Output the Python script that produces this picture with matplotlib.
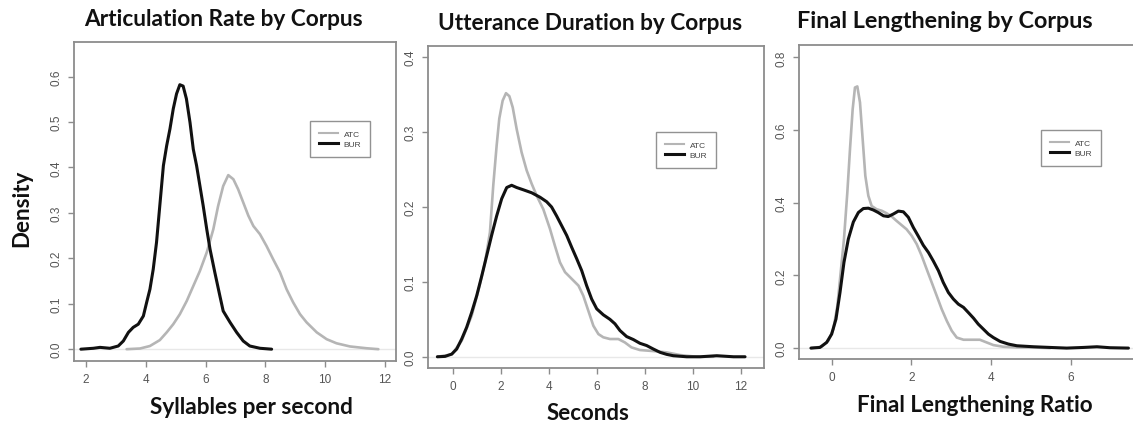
import matplotlib
matplotlib.use('Agg')
import matplotlib.pyplot as plt
from matplotlib.lines import Line2D

W, H, DPI = 1133, 427, 100

# ---------------- data ----------------
ar_bur_x = [1.83, 2.25, 2.47, 2.80, 3.08, 3.25, 3.42, 3.58, 3.75, 3.92, 4.03, 4.14, 4.25, 4.36,
            4.47, 4.59, 4.70, 4.81, 4.92, 5.03, 5.14, 5.25, 5.36, 5.48, 5.59, 5.70, 5.81, 5.92,
            6.04, 6.15, 6.31, 6.48, 6.59, 6.82, 7.04, 7.26, 7.48, 7.82, 8.21]
ar_bur_y = [0.0, 0.002, 0.004, 0.002, 0.007, 0.018, 0.037, 0.048, 0.055, 0.073, 0.103, 0.132,
            0.176, 0.235, 0.316, 0.404, 0.448, 0.485, 0.529, 0.562, 0.582, 0.579, 0.551, 0.499,
            0.44, 0.404, 0.36, 0.316, 0.264, 0.22, 0.169, 0.117, 0.084, 0.059, 0.037, 0.018,
            0.007, 0.002, 0.0]
ar_atc_x = [3.36, 3.81, 4.14, 4.47, 4.70, 4.92, 5.14, 5.37, 5.59, 5.81, 6.04, 6.26, 6.42, 6.59,
            6.76, 6.93, 7.09, 7.26, 7.43, 7.60, 7.82, 8.04, 8.26, 8.49, 8.71, 8.93, 9.16, 9.38,
            9.72, 10.05, 10.38, 10.83, 11.39, 11.78]
ar_atc_y = [0.0, 0.0015, 0.007, 0.020, 0.037, 0.055, 0.077, 0.106, 0.139, 0.172, 0.213, 0.264,
            0.315, 0.359, 0.383, 0.374, 0.352, 0.323, 0.294, 0.271, 0.253, 0.227, 0.198, 0.169,
            0.132, 0.103, 0.077, 0.059, 0.037, 0.022, 0.013, 0.006, 0.002, 0.0]

ud_bur_x = [-0.64, -0.32, -0.04, 0.165, 0.374, 0.58, 0.79, 1.0, 1.21, 1.415, 1.62, 1.83, 2.04,
            2.25, 2.455, 2.665, 2.94, 3.29, 3.64, 3.915, 4.12, 4.33, 4.54, 4.75, 4.96, 5.165,
            5.375, 5.58, 5.79, 6.0, 6.275, 6.55, 6.76, 6.97, 7.245, 7.525, 7.80, 8.08, 8.36,
            8.64, 8.915, 9.19, 9.75, 10.31, 11.0, 11.7, 12.18]
ud_bur_y = [0.0, 0.0005, 0.0036, 0.0103, 0.0237, 0.0393, 0.0593, 0.0816, 0.108, 0.135, 0.162,
            0.188, 0.211, 0.226, 0.229, 0.226, 0.223, 0.219, 0.213, 0.207, 0.2, 0.188, 0.175,
            0.162, 0.146, 0.131, 0.115, 0.095, 0.077, 0.064, 0.056, 0.050, 0.044, 0.035, 0.027,
            0.023, 0.018, 0.015, 0.0103, 0.0059, 0.0032, 0.0014, 0.0, 0.0, 0.0014, 0.0, 0.0]
ud_atc_x = [-0.64, -0.04, 0.374, 0.79, 1.12, 1.345, 1.55, 1.69, 1.83, 1.94, 2.08, 2.22, 2.36,
            2.50, 2.665, 2.87, 3.08, 3.29, 3.50, 3.775, 4.05, 4.26, 4.47, 4.68, 4.96, 5.24,
            5.44, 5.65, 5.86, 6.07, 6.275, 6.55, 6.90, 7.17, 7.45, 7.80, 8.36, 8.915, 9.47,
            10.17, 10.86]
ud_atc_y = [0.0, 0.0031, 0.0214, 0.0548, 0.095, 0.126, 0.166, 0.229, 0.282, 0.318, 0.342, 0.352,
            0.348, 0.333, 0.304, 0.273, 0.249, 0.231, 0.215, 0.197, 0.171, 0.148, 0.126, 0.113,
            0.104, 0.095, 0.0816, 0.0615, 0.0414, 0.0303, 0.026, 0.0237, 0.0237, 0.0192, 0.0125,
            0.009, 0.0076, 0.0059, 0.0023, 0.0, 0.0]

fl_bur_x = [-0.52, -0.294, -0.126, 0.0, 0.108, 0.209, 0.309, 0.418, 0.544, 0.67, 0.795, 0.921,
            1.047, 1.17, 1.30, 1.42, 1.55, 1.675, 1.80, 1.925, 2.05, 2.18, 2.30, 2.43, 2.55,
            2.68, 2.80, 2.93, 3.055, 3.18, 3.31, 3.43, 3.56, 3.68, 3.81, 3.935, 4.06, 4.23,
            4.44, 4.65, 5.065, 5.485, 5.90, 6.32, 6.66, 6.99, 7.45]
fl_bur_y = [0.0, 0.0018, 0.0156, 0.0385, 0.0798, 0.153, 0.236, 0.30, 0.347, 0.373, 0.384, 0.385,
            0.38, 0.373, 0.364, 0.362, 0.369, 0.377, 0.375, 0.36, 0.332, 0.307, 0.283, 0.263,
            0.24, 0.213, 0.181, 0.153, 0.135, 0.121, 0.112, 0.098, 0.0825, 0.066, 0.052, 0.0385,
            0.029, 0.0183, 0.011, 0.0064, 0.0037, 0.0018, 0.0, 0.0018, 0.0037, 0.001, 0.0]
fl_atc_x = [-0.52, -0.252, -0.084, 0.042, 0.143, 0.226, 0.309, 0.393, 0.46, 0.527, 0.585, 0.644,
            0.711, 0.778, 0.845, 0.921, 1.004, 1.13, 1.256, 1.38, 1.507, 1.63, 1.76, 1.88, 2.01,
            2.135, 2.26, 2.386, 2.51, 2.637, 2.763, 2.89, 3.014, 3.14, 3.31, 3.475, 3.72, 3.89,
            4.06, 4.31, 4.65, 5.065, 5.485]
fl_atc_y = [0.0, 0.0037, 0.020, 0.052, 0.116, 0.208, 0.30, 0.428, 0.547, 0.657, 0.717, 0.72,
            0.676, 0.575, 0.474, 0.419, 0.391, 0.382, 0.378, 0.371, 0.362, 0.35, 0.338, 0.327,
            0.309, 0.286, 0.254, 0.217, 0.181, 0.144, 0.107, 0.075, 0.0477, 0.029, 0.023, 0.023,
            0.023, 0.0156, 0.0083, 0.0037, 0.0018, 0.0018, 0.0]

titles = ["Articulation Rate by Corpus", "Utterance Duration by Corpus", "Final Lengthening by Corpus"]
xlabels = ["Syllables per second", "Seconds", "Final Lengthening Ratio"]
ylabel = "Density"
series_labels = ["ATC", "BUR"]
xticks = [[2, 4, 6, 8, 10, 12], [0, 2, 4, 6, 8, 10, 12], [0, 2, 4, 6]]
yticks = [[0.0, 0.1, 0.2, 0.3, 0.4, 0.5, 0.6], [0.0, 0.1, 0.2, 0.3, 0.4], [0.0, 0.2, 0.4, 0.6, 0.8]]

# ---------------- layout (pixels) ----------------
boxes = [(74, 43, 396, 362), (428, 47, 764, 369), (799, 46, 1136, 360)]   # l, t, r, b
xlims = [(1.6, 12.37), (-1.03, 12.97), (-0.82, 7.64)]
ylims = [(-0.026, 0.676), (-0.015, 0.415), (-0.030, 0.834)]
legend_boxes = [(310, 122), (656, 133), (1041, 131)]
title_pos = [(223.5, 19, 279), (590, 23, 304), (944.5, 21, 295)]
xlabel_pos = [(251.5, 408, 203), (588, 414, 83), (975, 406, 236)]

GRAY = '#b5b5b5'
BLACK = '#111111'
SPINE = '#8c8c8c'
TICKC = '#555555'

plt.rcParams['font.family'] = ['Liberation Sans', 'DejaVu Sans']
fig = plt.figure(figsize=(W / DPI, H / DPI), dpi=DPI)

data = [(ar_atc_x, ar_atc_y, ar_bur_x, ar_bur_y),
        (ud_atc_x, ud_atc_y, ud_bur_x, ud_bur_y),
        (fl_atc_x, fl_atc_y, fl_bur_x, fl_bur_y)]

for i in range(3):
    l, t, r, b = boxes[i]
    ax = fig.add_axes([l / W, 1 - b / H, (r - l) / W, (b - t) / H])
    ax.axhline(0, color='#e8e8e8', lw=1.0, zorder=1)
    ax_x, ax_y, bx, by = data[i]
    ax.plot(ax_x, ax_y, color=GRAY, lw=1.9, solid_joinstyle='round', solid_capstyle='round', zorder=2)
    ax.plot(bx, by, color=BLACK, lw=2.2, solid_joinstyle='round', solid_capstyle='round', zorder=3)
    ax.set_xlim(*xlims[i])
    ax.set_ylim(*ylims[i])
    ax.set_xticks(xticks[i])
    ax.set_xticklabels([str(v) for v in xticks[i]])
    ax.set_yticks(yticks[i])
    ax.set_yticklabels([f"{v:.1f}" for v in yticks[i]], rotation=90, va='center')
    ax.tick_params(axis='both', direction='out', length=4.5, width=1.0, color=SPINE,
                   labelcolor=TICKC, labelsize=8.5, pad=4)
    for s in ax.spines.values():
        s.set_color(SPINE)
        s.set_linewidth(1.3)
    handles = [Line2D([], [], color=GRAY, lw=1.5), Line2D([], [], color=BLACK, lw=2.2)]
    lx, ly = legend_boxes[i]
    leg = ax.legend(handles, series_labels, loc='upper left',
                    bbox_to_anchor=(lx / W, 1 - ly / H), bbox_transform=fig.transFigure,
                    fontsize=6, frameon=True, fancybox=False, edgecolor='#777777',
                    handlelength=2.3, handletextpad=0.7, borderpad=1.05, labelspacing=0.3,
                    borderaxespad=0)
    leg.get_frame().set_linewidth(1.0)
    for txt in leg.get_texts():
        txt.set_color('#444444')

text_objs = []
for i in range(3):
    x, y, w = title_pos[i]
    t = fig.text(x / W, 1 - y / H, titles[i], ha='center', va='center', fontsize=15,
                 fontweight='bold', family=['Lato', 'DejaVu Sans'], color='#111111')
    text_objs.append((t, w, False))
    x, y, w = xlabel_pos[i]
    t = fig.text(x / W, 1 - y / H, xlabels[i], ha='center', va='center', fontsize=16,
                 fontweight='bold', family=['Lato', 'DejaVu Sans'], color='#111111')
    text_objs.append((t, w, False))
t = fig.text(22 / W, 1 - 208 / H, ylabel, ha='center', va='center', rotation=90, fontsize=16,
             fontweight='bold', family=['Lato', 'DejaVu Sans'], color='#111111')
text_objs.append((t, 77, True))

fig.canvas.draw()
renderer = fig.canvas.get_renderer()
for _ in range(3):
    for tobj, target, vertical in text_objs:
        bb = tobj.get_window_extent(renderer)
        cur = bb.height if vertical else bb.width
        tobj.set_fontsize(tobj.get_fontsize() * target / cur)
    fig.canvas.draw()

fig.savefig('out.png', dpi=DPI)
